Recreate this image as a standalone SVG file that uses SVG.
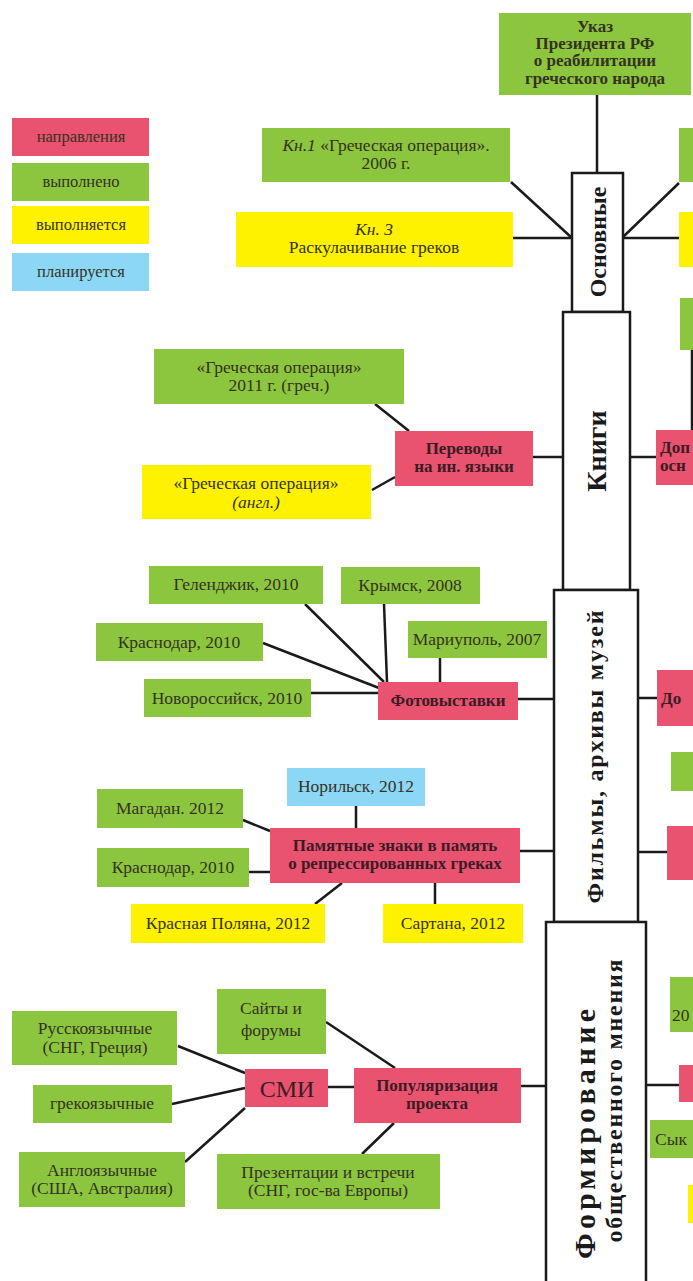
<svg xmlns="http://www.w3.org/2000/svg" width="693" height="1281" viewBox="0 0 693 1281">
<style>
text{font-family:"Liberation Serif","Times New Roman",serif;fill:#35321f;font-size:17.5px;text-anchor:middle}
.p{fill:#e9536f}.g{fill:#8cc63f}.y{fill:#fff200}.b{fill:#8dd7f6}
.bt{font-weight:bold;fill:#3a1c24;font-size:17px}
.it{font-style:italic}
.col{fill:#fff;stroke:#1a1a1a;stroke-width:2.5}
.vt{font-weight:bold;fill:#1a1a1a}
.st{text-anchor:start}
.lg{font-size:16.5px}
#connectors line{stroke:#1a1a1a;stroke-width:2.5}
</style>
<rect width="693" height="1281" fill="#fff"/>
<g id="connectors">
<line x1="597" y1="95" x2="597" y2="173"/>
<line x1="511" y1="182" x2="572" y2="238"/>
<line x1="513" y1="238" x2="572" y2="238"/>
<line x1="623" y1="237" x2="679" y2="183"/>
<line x1="623" y1="238" x2="679" y2="238"/>
<line x1="692" y1="350" x2="692" y2="430"/>
<line x1="630" y1="457" x2="656" y2="457"/>
<line x1="533" y1="457" x2="563" y2="457"/>
<line x1="375" y1="404" x2="409" y2="431"/>
<line x1="372" y1="490" x2="395" y2="477"/>
<line x1="305" y1="604" x2="384" y2="682"/>
<line x1="384" y1="604" x2="387" y2="682"/>
<line x1="440" y1="658" x2="440" y2="682"/>
<line x1="263" y1="643" x2="379" y2="688"/>
<line x1="311" y1="693" x2="378" y2="693"/>
<line x1="518" y1="699" x2="554" y2="699"/>
<line x1="638" y1="698" x2="657" y2="698"/>
<line x1="638" y1="852" x2="667" y2="852"/>
<line x1="356" y1="806" x2="356" y2="828"/>
<line x1="243" y1="820" x2="270" y2="831"/>
<line x1="249" y1="872" x2="270" y2="872"/>
<line x1="315" y1="904" x2="342" y2="883"/>
<line x1="435" y1="883" x2="435" y2="904"/>
<line x1="520" y1="851" x2="554" y2="851"/>
<line x1="326" y1="1022" x2="395" y2="1068"/>
<line x1="362" y1="1154" x2="394" y2="1123"/>
<line x1="328" y1="1087" x2="354" y2="1087"/>
<line x1="521" y1="1086" x2="546" y2="1086"/>
<line x1="646" y1="1085" x2="679" y2="1085"/>
<line x1="178" y1="1046" x2="245" y2="1073"/>
<line x1="172" y1="1104" x2="245" y2="1088"/>
<line x1="185" y1="1162" x2="245" y2="1108"/>
</g>
<g id="legend">
<rect class="p" x="12" y="118" width="137" height="38"/><text class="lg" x="81" y="142">направления</text>
<rect class="g" x="12" y="163" width="137" height="38"/><text class="lg" x="81" y="187">выполнено</text>
<rect class="y" x="12" y="206" width="137" height="38"/><text class="lg" x="81" y="230">выполняется</text>
<rect class="b" x="12" y="253" width="137" height="38"/><text class="lg" x="81" y="277">планируется</text>
</g>
<g id="ukaz">
<rect class="g" x="499" y="13" width="192" height="82"/>
<text class="bt" x="595" y="32" style="fill:#35321f">Указ</text>
<text class="bt" x="595" y="49" style="fill:#35321f">Президента РФ</text>
<text class="bt" x="595" y="66" style="fill:#35321f">о реабилитации</text>
<text class="bt" x="595" y="84" style="fill:#35321f">греческого  народа</text>
</g>
<g id="osnovnye">
<rect class="col" x="572" y="173" width="51" height="139"/>
<text class="vt" style="font-size:24px" transform="translate(606,242) rotate(-90)">Основные</text>
</g>
<g id="knigi">
<rect class="col" x="563" y="312" width="67" height="278"/>
<text class="vt" style="font-size:28px" transform="translate(606,451) rotate(-90)">Книги</text>
</g>
<g id="filmy">
<rect class="col" x="554" y="590" width="84" height="332"/>
<text class="vt" style="font-size:24px" textLength="293" lengthAdjust="spacing" transform="translate(603,757) rotate(-90)">Фильмы, архивы музей</text>
</g>
<g id="formirovanie">
<rect class="col" x="546" y="922" width="100" height="370"/>
<text class="vt" style="font-size:30px" textLength="250" lengthAdjust="spacing" transform="translate(595,1134) rotate(-90)">Формирование</text>
<text class="vt" style="font-size:24px" textLength="283" lengthAdjust="spacing" transform="translate(622,1101) rotate(-90)">общественного мнения</text>
</g>
<g id="kn1">
<rect class="g" x="262" y="128" width="248" height="54"/>
<text x="386" y="151"><tspan class="it">Кн.1</tspan>  «Греческая операция».</text>
<text x="386" y="169">2006 г.</text>
</g>
<g id="kn3">
<rect class="y" x="236" y="212" width="277" height="55"/>
<text class="it" x="374" y="235">Кн. 3</text>
<text x="374" y="253">Раскулачивание греков</text>
</g>
<g id="right-top">
<rect class="g" x="679" y="128" width="14" height="54"/>
<rect class="y" x="679" y="212" width="14" height="55"/>
<rect class="g" x="680" y="298" width="13" height="52"/>
</g>
<g id="dop1">
<rect class="p" x="656" y="430" width="37" height="55"/>
<text class="bt st" x="660" y="453">Доп</text>
<text class="bt st" x="660" y="471">осн</text>
</g>
<g id="perevody">
<rect class="p" x="395" y="431" width="138" height="55"/>
<text class="bt" x="464" y="454">Переводы</text>
<text class="bt" x="464" y="472">на ин. языки</text>
</g>
<g id="greek2011">
<rect class="g" x="154" y="349" width="250" height="55"/>
<text x="279" y="373">«Греческая операция»</text>
<text x="279" y="391">2011 г. (греч.)</text>
</g>
<g id="engl">
<rect class="y" x="142" y="465" width="229" height="54"/>
<text x="256" y="489">«Греческая операция»</text>
<text class="it" x="256" y="508">(англ.)</text>
</g>
<g id="foto">
<rect class="p" x="378" y="682" width="140" height="38"/>
<text class="bt" x="448" y="706">Фотовыставки</text>
</g>
<g id="gelendzhik"><rect class="g" x="149" y="566" width="174" height="38"/><text x="236" y="590">Геленджик, 2010</text></g>
<g id="krymsk"><rect class="g" x="341" y="567" width="139" height="37"/><text x="410" y="591">Крымск, 2008</text></g>
<g id="mariupol"><rect class="g" x="408" y="621" width="139" height="37"/><text x="477" y="645">Мариуполь, 2007</text></g>
<g id="krasnodar1"><rect class="g" x="96" y="623" width="167" height="38"/><text x="179" y="648">Краснодар, 2010</text></g>
<g id="novoross"><rect class="g" x="144" y="679" width="167" height="38"/><text x="227" y="704">Новороссийск, 2010</text></g>
<g id="dop2"><rect class="p" x="657" y="670" width="36" height="56"/><text class="bt st" x="661" y="704">До</text></g>
<g id="right-mid">
<rect class="g" x="671" y="752" width="22" height="39"/>
<rect class="p" x="667" y="826" width="26" height="54"/>
</g>
<g id="pamyat">
<rect class="p" x="270" y="828" width="250" height="55"/>
<text class="bt" x="395" y="851">Памятные знаки в память</text>
<text class="bt" x="395" y="869">о репрессированных греках</text>
</g>
<g id="norilsk"><rect class="b" x="287" y="768" width="138" height="38"/><text x="356" y="792">Норильск, 2012</text></g>
<g id="magadan"><rect class="g" x="97" y="789" width="146" height="39"/><text x="170" y="814">Магадан. 2012</text></g>
<g id="krasnodar2"><rect class="g" x="97" y="848" width="152" height="39"/><text x="173" y="873">Краснодар, 2010</text></g>
<g id="polyana"><rect class="y" x="131" y="904" width="194" height="39"/><text x="228" y="929">Красная Поляна, 2012</text></g>
<g id="sartana"><rect class="y" x="383" y="904" width="140" height="39"/><text x="453" y="929">Сартана, 2012</text></g>
<g id="populyar">
<rect class="p" x="354" y="1068" width="167" height="55"/>
<text class="bt" x="437" y="1091">Популяризация</text>
<text class="bt" x="437" y="1109">проекта</text>
</g>
<g id="smi"><rect class="p" x="245" y="1069" width="83" height="38"/><text x="287" y="1097" style="font-size:24px;fill:#3a1c24">СМИ</text></g>
<g id="saity">
<rect class="g" x="217" y="989" width="109" height="65"/>
<text x="271" y="1014">Сайты и</text>
<text x="271" y="1036">форумы</text>
</g>
<g id="prezent">
<rect class="g" x="217" y="1154" width="223" height="55"/>
<text x="328" y="1178">Презентации и встречи</text>
<text x="328" y="1196">(СНГ, гос-ва Европы)</text>
</g>
<g id="russk">
<rect class="g" x="12" y="1011" width="165" height="54"/>
<text x="95" y="1034">Русскоязычные</text>
<text x="95" y="1053">(СНГ, Греция)</text>
</g>
<g id="grek"><rect class="g" x="33" y="1085" width="139" height="38"/><text x="102" y="1109">грекоязычные</text></g>
<g id="angl">
<rect class="g" x="19" y="1152" width="166" height="55"/>
<text x="102" y="1176">Англоязычные</text>
<text x="102" y="1194">(США, Австралия)</text>
</g>
<g id="right-bottom">
<rect class="g" x="670" y="977" width="23" height="55"/><text class="st" x="672" y="1021">20</text>
<rect class="p" x="679" y="1065" width="14" height="37"/>
<rect class="g" x="650" y="1120" width="43" height="38"/><text class="st" x="655" y="1145">Сык</text>
<rect class="y" x="688" y="1185" width="5" height="38"/>
</g>
</svg>
